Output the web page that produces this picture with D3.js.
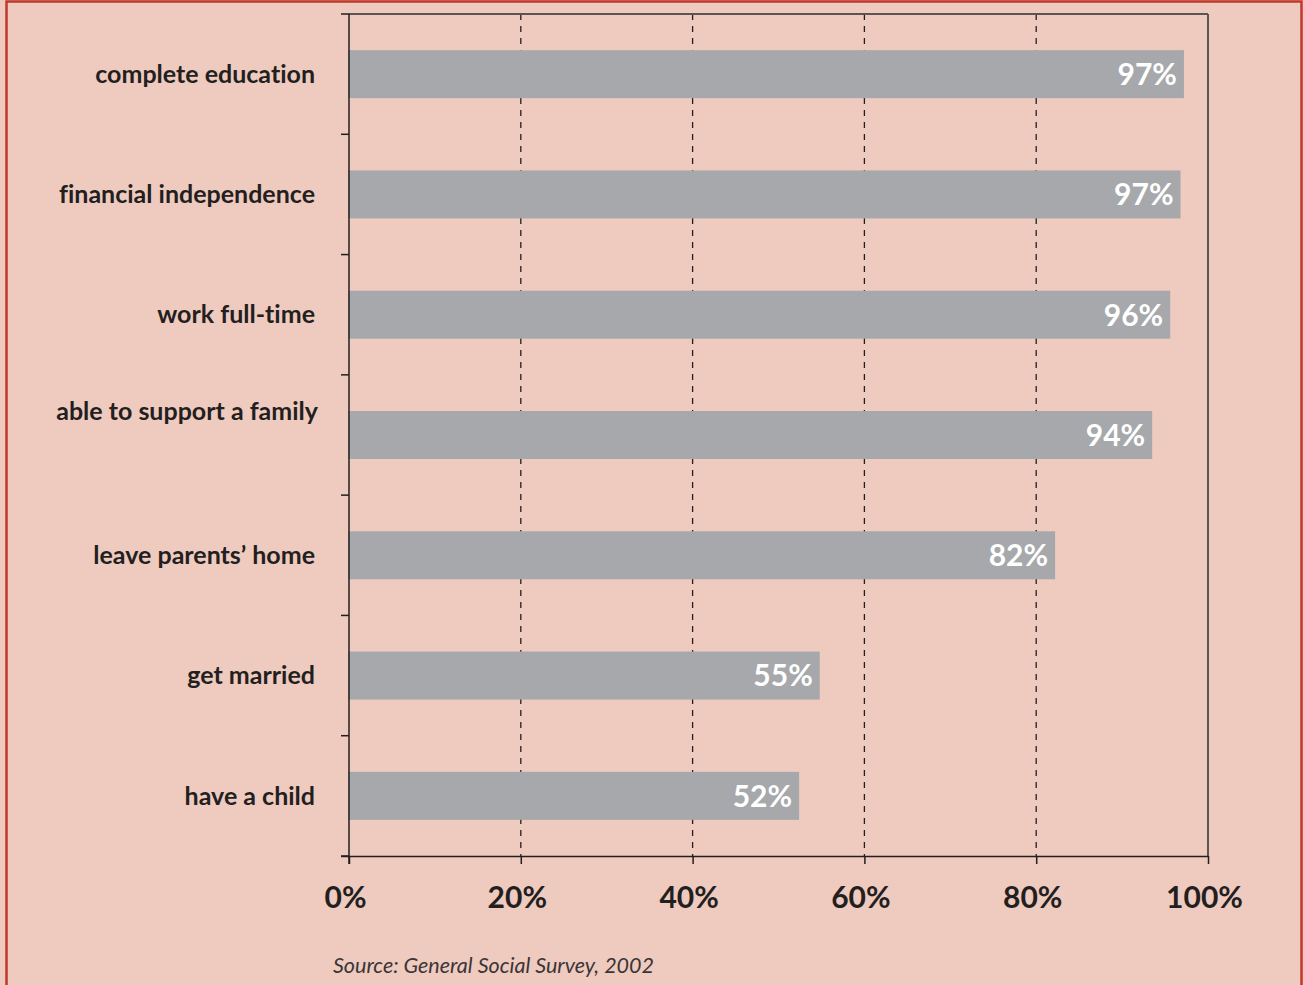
<!DOCTYPE html>
<html>
<head>
<meta charset="utf-8">
<style>
  body { margin: 0; background: #fff; }
  svg { display: block; }
  text { font-variant-ligatures: none; }
  .cat { font-family: Lato, "Open Sans", sans-serif; font-weight: 700; font-size: 25px; fill: #231f20; }
  .val { font-family: Lato, "Open Sans", sans-serif; font-weight: 700; font-size: 30px; fill: #fff; }
  .tick text { font-family: Lato, "Open Sans", sans-serif; font-weight: 700; font-size: 30px; fill: #231f20; }
  .source { font-family: Lato, "Open Sans", sans-serif; font-style: italic; font-size: 21.5px; fill: #3a3536; }
</style>
</head>
<body>
<svg width="1303" height="985"></svg>
<script src="https://d3js.org/d3.v7.min.js"></script>
<script>
// data
const categories = ["complete education", "financial independence", "work full-time",
  "able to support a family", "leave parents\u2019 home", "get married", "have a child"];
const values = [97.2, 96.8, 95.6, 93.5, 82.2, 54.8, 52.4];
const valueLabels = ["97%", "97%", "96%", "94%", "82%", "55%", "52%"];
const xTicks = [0, 20, 40, 60, 80, 100];
const source = "Source: General Social Survey, 2002";

const svg = d3.select("svg");
const W = 1303, H = 985;
const m = { left: 349, right: 95, top: 14, bottom: 129 };

// background + red frame
svg.append("rect").attr("x", 0).attr("y", 0).attr("width", W).attr("height", H).attr("fill", "#efcabf");
svg.append("path")
  .attr("d", `M6.5,${H} V1.5 H1301.5 V${H}`)
  .attr("fill", "none").attr("stroke", "#c0392b").attr("stroke-width", 2.5);

const x = d3.scaleLinear().domain([0, 100]).range([m.left, W - m.right]);
const band = d3.scaleBand().domain(categories).range([m.top, H - m.bottom]);

// grid lines
svg.append("g").selectAll("line")
  .data(xTicks.filter(d => d > 0))
  .join("line")
  .attr("x1", d => x(d)).attr("x2", d => x(d))
  .attr("y1", m.top).attr("y2", H - m.bottom)
  .attr("stroke", d => d === 100 ? "#5b5556" : "#231f20")
  .attr("stroke-width", d => d === 100 ? 2 : 1.3)
  .attr("stroke-dasharray", d => d === 100 ? null : "6,6");

// top line
svg.append("line")
  .attr("x1", x(0)).attr("x2", x(100))
  .attr("y1", m.top).attr("y2", m.top)
  .attr("stroke", "#5b5556").attr("stroke-width", 2);

// bars
const bh = 48;
svg.append("g").selectAll("rect")
  .data(categories)
  .join("rect")
  .attr("x", x(0) - 1)
  .attr("y", d => band(d) + band.bandwidth() / 2 - bh / 2)
  .attr("width", (d, i) => x(values[i]) - x(0) + 1)
  .attr("height", bh)
  .attr("fill", "#a6a8ab");

// value labels
svg.append("g").selectAll("text")
  .data(categories)
  .join("text")
  .attr("class", "val")
  .attr("x", (d, i) => x(values[i]) - 7)
  .attr("y", d => band(d) + band.bandwidth() / 2)
  .attr("dy", "0.36em")
  .attr("text-anchor", "end")
  .text((d, i) => valueLabels[i]);

// category labels ("able to support a family" sits a bit high in the original)
svg.append("g").selectAll("text")
  .data(categories)
  .join("text")
  .attr("class", "cat")
  .attr("x", (d, i) => i === 3 ? 318 : 315)
  .attr("y", (d, i) => band(d) + band.bandwidth() / 2 - (i === 3 ? 24 : 0))
  .attr("dy", "0.35em")
  .attr("text-anchor", "end")
  .text(d => d);

// left axis with boundary ticks
const bounds = categories.map(d => band(d)).concat([H - m.bottom]);
svg.append("line")
  .attr("x1", x(0)).attr("x2", x(0))
  .attr("y1", m.top).attr("y2", H - m.bottom + 8)
  .attr("stroke", "#231f20").attr("stroke-width", 1.5);
svg.append("g").selectAll("line")
  .data(bounds)
  .join("line")
  .attr("x1", x(0) - 8).attr("x2", x(0))
  .attr("y1", d => d).attr("y2", d => d)
  .attr("stroke", "#231f20").attr("stroke-width", 1.5);

// bottom axis
const xAxis = svg.append("g")
  .attr("transform", `translate(0,${H - m.bottom})`)
  .call(d3.axisBottom(x).tickValues(xTicks).tickFormat(d => d + "%").tickSize(8).tickPadding(23));
xAxis.select(".domain").attr("d", `M${x(0) - 8},0.5H${x(100)}`).attr("stroke", "#231f20").attr("stroke-width", 1.5);
xAxis.selectAll(".tick line").attr("stroke", "#231f20").attr("stroke-width", 1.5);
xAxis.selectAll(".tick text").attr("dx", -4);

// source note
svg.append("text")
  .attr("class", "source")
  .attr("x", 333).attr("y", 973)
  .text(source);
</script>
</body>
</html>
